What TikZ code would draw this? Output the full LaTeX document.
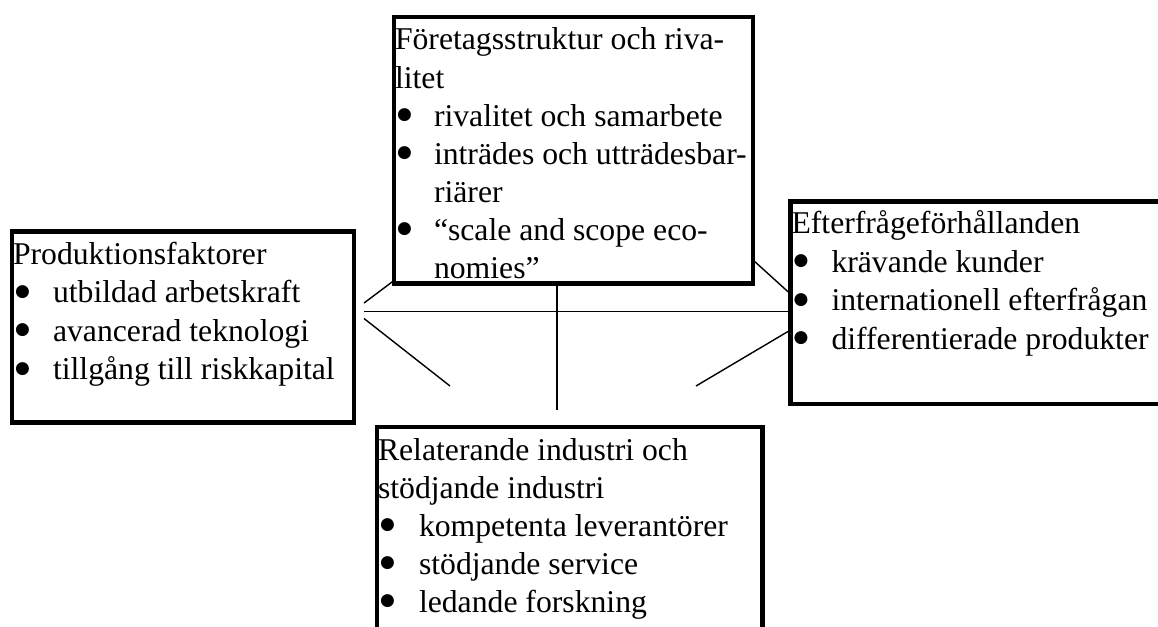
\documentclass[tikz,border=0pt]{standalone}
\usepackage{fontspec}
\setmainfont{Liberation Serif}
\newfontfamily\bulfont{DejaVu Sans}
\newcommand{\bigbul}[1]{\makebox[#1][l]{\hspace{2pt}\raisebox{6.5pt}{\bulfont\fontsize{17}{17}\selectfont ●}}}
\begin{document}
\begin{tikzpicture}[x=1pt,y=-1pt,
  box/.style={draw, line width=4.5pt, rectangle, inner sep=0pt, outer sep=0pt, anchor=north west},
  conn/.style={line width=1.4pt},
  txt/.style={anchor=base west, inner sep=0pt, outer sep=0pt, font=\fontsize{31.7}{38}\selectfont},
  ]
\useasboundingbox (0,0) rectangle (1158,626);
% boxes
\node[box, minimum width=359pt, minimum height=266.5pt] (top) at (394,17) {};
\node[box, minimum width=342pt, minimum height=191pt] (left) at (12,231.5) {};
\node[box, minimum width=380pt, minimum height=202.5pt] (right) at (790.5,201.5) {};
\node[box, minimum width=385.5pt, minimum height=240pt] (bottom) at (377,427) {};
% free ends of connectors
\coordinate (pL1) at (364,303);
\coordinate (pL2) at (364,311.5);
\coordinate (pL3) at (364,318.5);
\coordinate (pB1) at (450,386);
\coordinate (pB2) at (557,410);
\coordinate (pB3) at (696,386);
% connectors
\draw[conn] ([yshift=3pt]top.south west) -- (pL1);
\draw[conn] (pL2) -- (pL2 -| right.west);
\draw[conn] (pL3) -- (pB1);
\draw[conn] (pB2 |- top.south) -- (pB2);
\draw[conn] ([yshift=23.5pt]top.south east) -- ([yshift=-92.5pt]right.north west);
\draw[conn] ([yshift=-128.5pt]right.north west) -- (pB3);
% top box text
\node[txt] (t1) at (395,50) {Företagsstruktur och riva-};
\node[txt] (t2) at (395,88) {litet};
\node[txt] (t3) at (395,126) {\bigbul{39pt}rivalitet och samarbete};
\node[txt] (t4) at (395,164) {\bigbul{39pt}inträdes och utträdesbar-};
\node[txt] (t5) at (434,202) {riärer};
\node[txt] (t6) at (395,240) {\bigbul{39pt}“scale and scope eco-};
\node[txt] (t7) at (434,278) {nomies”};
% left box text
\node[txt] (l1) at (13,264) {Produktionsfaktorer};
\node[txt] (l2) at (13,302.5) {\bigbul{40pt}utbildad arbetskraft};
\node[txt] (l3) at (13,341) {\bigbul{40pt}avancerad teknologi};
\node[txt] (l4) at (13,379.5) {\bigbul{40pt}tillgång till riskkapital};
% right box text
\node[txt] (r1) at (791.5,233.5) {Efterfrågeförhållanden};
\node[txt] (r2) at (791.5,272) {\bigbul{40pt}krävande kunder};
\node[txt] (r3) at (791.5,310.5) {\bigbul{40pt}internationell efterfrågan};
\node[txt] (r4) at (791.5,349) {\bigbul{40pt}differentierade produkter};
% bottom box text
\node[txt] (b1) at (378,460) {Relaterande industri och};
\node[txt] (b2) at (378,498) {stödjande industri};
\node[txt] (b3) at (378,536) {\bigbul{41pt}kompetenta leverantörer};
\node[txt] (b4) at (378,574) {\bigbul{41pt}stödjande service};
\node[txt] (b5) at (378,612) {\bigbul{41pt}ledande forskning};
\end{tikzpicture}
\end{document}
